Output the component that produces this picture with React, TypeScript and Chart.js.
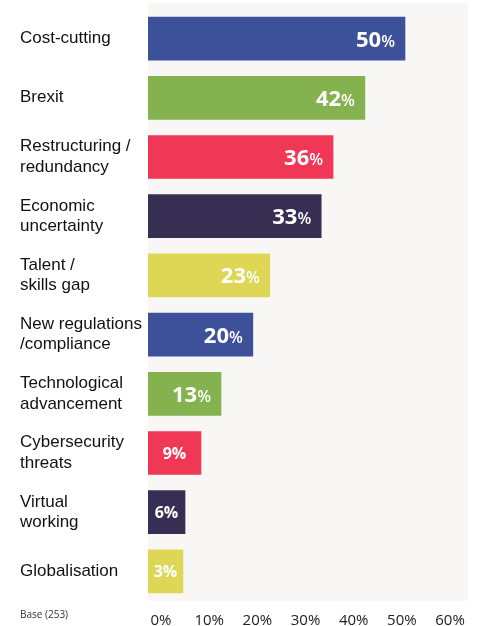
import React, { useEffect, useRef } from "react";
import { Chart, registerables } from "chart.js";

Chart.register(...registerables);

const categories: string[][] = [
  ["Cost-cutting"],
  ["Brexit"],
  ["Restructuring /", "redundancy"],
  ["Economic", "uncertainty"],
  ["Talent /", "skills gap"],
  ["New regulations", "/compliance"],
  ["Technological", "advancement"],
  ["Cybersecurity", "threats"],
  ["Virtual", "working"],
  ["Globalisation"],
];

// Printed percentages
const shownValues: number[] = [50, 42, 36, 33, 23, 20, 13, 9, 6, 3];

// Bar lengths as drawn in the picture, read against the bar scale (in %)
const barValues: number[] = [50, 42.2, 36, 33.7, 23.7, 20.4, 14.2, 10.3, 7.2, 6.8];

const barColors: string[] = [
  "#3d519a",
  "#84b24f",
  "#f03755",
  "#362f53",
  "#ddd755",
  "#3d519a",
  "#84b24f",
  "#f03755",
  "#362f53",
  "#ddd755",
];

const tickValues: number[] = [0, 10, 20, 30, 40, 50, 60];
const baseNote = "Base (253)";

const valueLabelPlugin = {
  id: "valueLabels",
  beforeDraw(chart: any) {
    const { ctx, chartArea } = chart;
    ctx.save();
    ctx.fillStyle = "#f8f7f6";
    ctx.fillRect(
      chartArea.left,
      chartArea.top - 6,
      chartArea.right - chartArea.left,
      chartArea.bottom - chartArea.top + 6
    );
    ctx.restore();
  },
  afterDatasetsDraw(chart: any) {
    const { ctx } = chart;
    const meta = chart.getDatasetMeta(0);
    ctx.save();
    ctx.fillStyle = "#ffffff";
    ctx.textBaseline = "alphabetic";
    meta.data.forEach((bar: any, i: number) => {
      const v = shownValues[i];
      const yc = bar.y;
      if (v >= 10) {
        const right = bar.x - 10;
        ctx.font = "600 16px 'Open Sans'";
        ctx.textAlign = "right";
        const pw = ctx.measureText("%").width;
        ctx.fillText("%", right, yc + 8);
        ctx.font = "bold 22px 'Open Sans'";
        ctx.fillText(String(v), right - pw, yc + 8);
      } else {
        ctx.font = "bold 16px 'Open Sans'";
        ctx.textAlign = "center";
        ctx.fillText(v + "%", (bar.base + bar.x) / 2, yc + 6);
      }
    });
    ctx.restore();
  },
  afterDraw(chart: any) {
    const { ctx } = chart;
    ctx.save();
    ctx.fillStyle = "#333333";
    ctx.font = "10px 'Open Sans'";
    ctx.textAlign = "left";
    ctx.textBaseline = "middle";
    ctx.fillText(baseNote, 20, 615);
    ctx.restore();
  },
};

export default function App() {
  const canvasRef = useRef<HTMLCanvasElement | null>(null);

  useEffect(() => {
    if (!canvasRef.current) return;
    const chart = new Chart(canvasRef.current, {
      type: "bar",
      data: {
        labels: categories,
        datasets: [
          {
            data: barValues,
            backgroundColor: barColors,
            borderWidth: 0,
            barThickness: 43,
            xAxisID: "x",
            yAxisID: "y",
          },
        ],
      },
      plugins: [valueLabelPlugin],
      options: {
        indexAxis: "y",
        animation: false,
        responsive: false,
        maintainAspectRatio: false,
        layout: { padding: { left: 20, right: 10, top: 9, bottom: 0 } },
        plugins: {
          legend: { display: false },
          tooltip: { enabled: false },
        },
        scales: {
          x: {
            type: "linear",
            display: false,
            min: 0,
            max: 62.26,
          },
          x2: {
            type: "linear",
            position: "bottom",
            min: -2.7,
            max: 63.73,
            grid: { display: false },
            border: { display: false },
            afterBuildTicks(scale: any) {
              scale.ticks = tickValues.map((v) => ({ value: v }));
            },
            afterFit(scale: any) {
              scale.height = 25;
              scale.paddingLeft = 0;
              scale.paddingRight = 0;
            },
            ticks: {
              padding: 3,
              color: "#222222",
              font: { family: "'Open Sans'", size: 15 },
              callback: (v: any) => v + "%",
              autoSkip: false,
              maxRotation: 0,
            },
          },
          y: {
            type: "category",
            position: "left",
            grid: { display: false },
            border: { display: false },
            afterFit(scale: any) {
              scale.width = 128;
              scale.paddingTop = 0;
              scale.paddingBottom = 0;
            },
            ticks: {
              crossAlign: "far",
              autoSkip: false,
              color: "#111111",
              font: { family: "'Liberation Sans', Arial", size: 17, lineHeight: 1.2 },
            },
          },
        },
      },
    } as any);
    return () => chart.destroy();
  }, []);

  return (
    <div style={{ position: "fixed", left: 0, top: 0, width: 478, height: 626, background: "#ffffff" }}>
      <canvas ref={canvasRef} width={478} height={626} style={{ display: "block", width: 478, height: 626 }} />
    </div>
  );
}
